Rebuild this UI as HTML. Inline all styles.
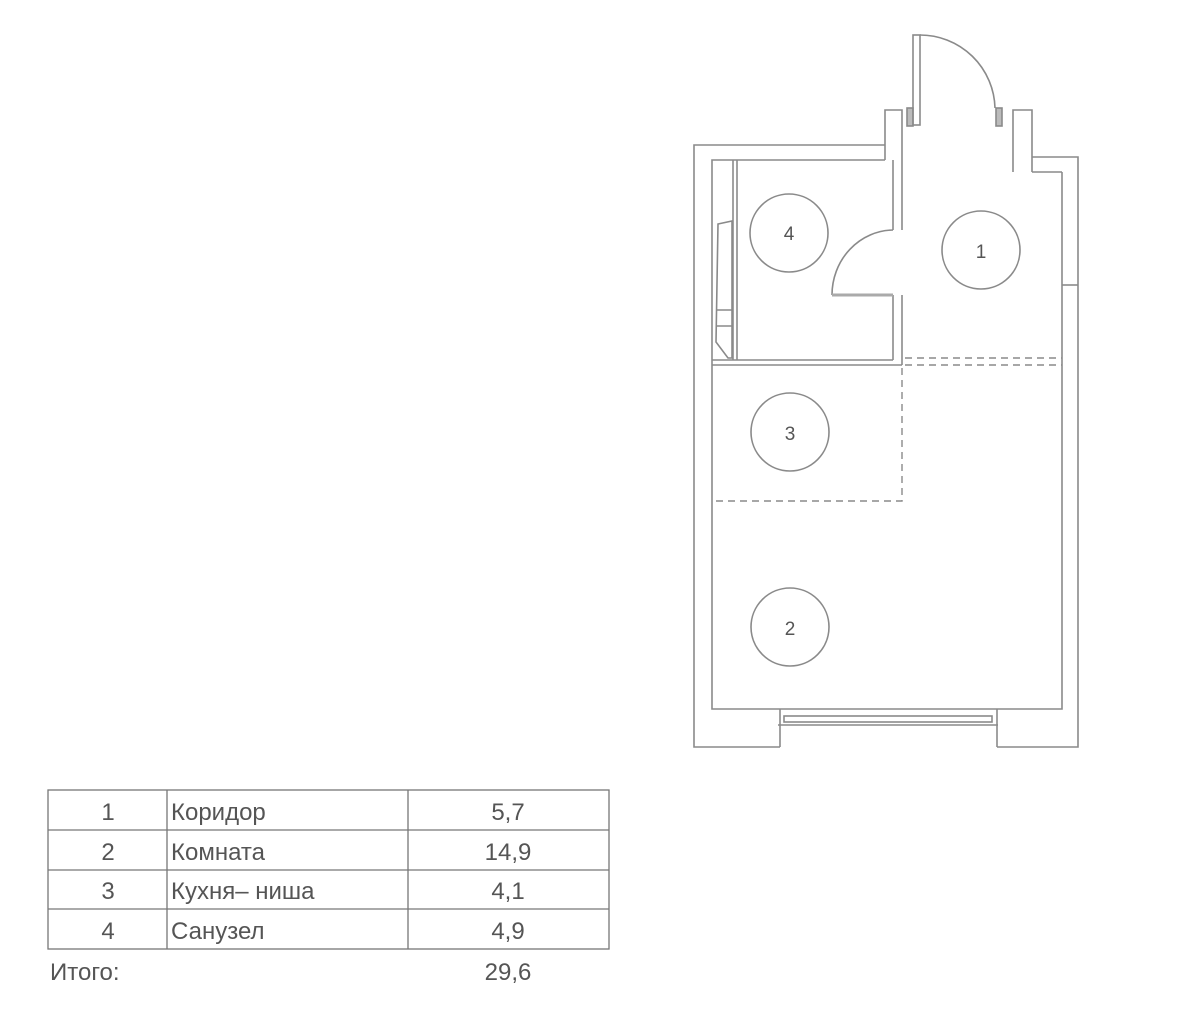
<!DOCTYPE html>
<html><head><meta charset="utf-8"><style>
html,body{margin:0;padding:0;background:#fff;}
svg{display:block}
text{font-family:"Liberation Sans",sans-serif;fill:#555}
</style></head><body>
<svg width="1179" height="1013" viewBox="0 0 1179 1013" xmlns="http://www.w3.org/2000/svg">
<g fill="none" stroke="#8a8a8a" stroke-width="1.6">
<!-- outer walls -->
<polyline points="885,145 694,145 694,747 780,747"/>
<polyline points="997,747 1078,747 1078,157 1032,157"/>
<polyline points="885,160 712,160 712,709 1062,709 1062,172"/>
<line x1="1062" y1="172" x2="1032" y2="172"/>
<line x1="1062" y1="285" x2="1078" y2="285"/>
<!-- entry pillars -->
<polyline points="885,160 885,110 902,110 902,230"/>
<polyline points="1032,172 1032,110 1013,110 1013,172"/>
<polyline points="902,295 902,365"/>
<!-- door frames -->
<rect x="907" y="108" width="6" height="18" fill="#bbb"/>
<rect x="996" y="108" width="6" height="18" fill="#bbb"/>
<!-- entry door leaf and arc -->
<rect x="913" y="35" width="7" height="90"/>
<path d="M920,35 A75,75 0 0 1 995,108"/>
<!-- bathroom -->
<line x1="733" y1="160" x2="733" y2="360"/>
<line x1="737" y1="160" x2="737" y2="360"/>
<line x1="893" y1="160" x2="893" y2="230"/>
<line x1="893" y1="295" x2="893" y2="360"/>
<line x1="712" y1="360" x2="893" y2="360"/>
<line x1="712" y1="365" x2="902" y2="365"/>
<path d="M718,224 L732,221 L732,358 L728,358 L716,342 Z"/>
<line x1="716" y1="310" x2="733" y2="310"/>
<line x1="716" y1="326" x2="733" y2="326"/>
<!-- bathroom door -->
<path d="M832,295 A62,65 0 0 1 893,230"/>
<line x1="832" y1="295" x2="893" y2="295" stroke="#aaa" stroke-width="3"/>
<!-- window -->
<polyline points="780,709 780,747"/>
<polyline points="997,709 997,747"/>
<line x1="778" y1="725" x2="998" y2="725"/>
<rect x="784" y="716" width="208" height="6"/>
<!-- circles -->
<circle cx="789" cy="233" r="39"/>
<circle cx="981" cy="250" r="39"/>
<circle cx="790" cy="432" r="39"/>
<circle cx="790" cy="627" r="39"/>
</g>
<g fill="none" stroke="#8a8a8a" stroke-width="1.4" stroke-dasharray="7,5">
<line x1="905" y1="358" x2="1062" y2="358"/>
<line x1="905" y1="365" x2="1062" y2="365"/>
<polyline points="902,368 902,501 713,501"/>
</g>
<g font-size="19" text-anchor="middle" style="fill:#444">
<text x="789" y="240">4</text>
<text x="981" y="258">1</text>
<text x="790" y="440">3</text>
<text x="790" y="635">2</text>
</g>
<!-- table -->
<g fill="none" stroke="#777" stroke-width="1.3">
<rect x="48" y="790" width="561" height="159"/>
<line x1="48" y1="830" x2="609" y2="830"/>
<line x1="48" y1="870" x2="609" y2="870"/>
<line x1="48" y1="909" x2="609" y2="909"/>
<line x1="167" y1="790" x2="167" y2="949"/>
<line x1="408" y1="790" x2="408" y2="949"/>
</g>
<g font-size="24">
<text x="108" y="820" text-anchor="middle">1</text>
<text x="108" y="860" text-anchor="middle">2</text>
<text x="108" y="899" text-anchor="middle">3</text>
<text x="108" y="939" text-anchor="middle">4</text>
<text x="171" y="820">Коридор</text>
<text x="171" y="860">Комната</text>
<text x="171" y="899">Кухня– ниша</text>
<text x="171" y="939">Санузел</text>
<text x="508" y="820" text-anchor="middle">5,7</text>
<text x="508" y="860" text-anchor="middle">14,9</text>
<text x="508" y="899" text-anchor="middle">4,1</text>
<text x="508" y="939" text-anchor="middle">4,9</text>
<text x="50" y="980">Итого:</text>
<text x="508" y="980" text-anchor="middle">29,6</text>
</g>
</svg>
</body></html>
